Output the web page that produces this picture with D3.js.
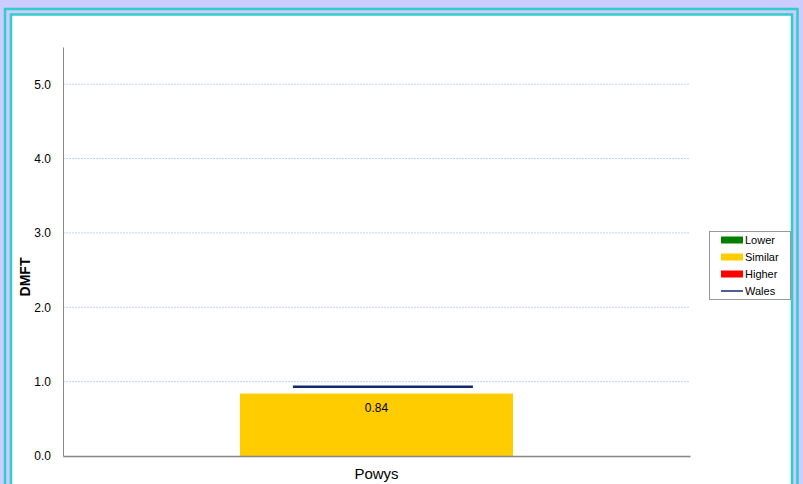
<!DOCTYPE html>
<html><head><meta charset="utf-8">
<script src="https://cdn.jsdelivr.net/npm/d3@7"></script>
<style>body{margin:0;background:#CCCCFF;overflow:hidden}</style>
</head><body>
<svg id="c" width="803" height="484"></svg>
<script>
const categories = ["Powys"];
const values = [0.84];
const barColors = ["#FFCC00"];
const walesValue = [0.93];
const yTicks = [0, 1, 2, 3, 4, 5];
const legendLabels = ["Lower", "Similar", "Higher", "Wales"];
const legendColors = ["#008000", "#FFCC00", "#FF0000", "#14286E"];

const svg = d3.select("#c");
svg.append("rect").attr("x",0).attr("y",0).attr("width",803).attr("height",484).attr("fill","#CCCCFF");
svg.append("rect").attr("x",5).attr("y",9).attr("width",792.5).attr("height",520)
  .attr("fill","#CCCCFF").attr("stroke","#33CCCC").attr("stroke-width",2.5);
svg.append("rect").attr("x",11).attr("y",14.5).attr("width",781).attr("height",520)
  .attr("fill","#FFFFFF").attr("stroke","#33CCCC").attr("stroke-width",2.5);

const mL = 63, mR = 690, mT = 47, mB = 456;
const y = d3.scaleLinear().domain([0, 5.5]).range([mB, mT]);
const x = d3.scaleBand().domain(categories).range([mL, mR]).paddingInner(0).paddingOuter(0.648);

// gridlines
svg.append("g").selectAll("line").data(yTicks.filter(d=>d>0)).join("line")
  .attr("x1", mL).attr("x2", mR).attr("y1", d=>y(d)).attr("y2", d=>y(d))
  .attr("stroke", "#BCD4EE").attr("stroke-width", 1).attr("stroke-dasharray", "2,1");

// y axis
const yAxis = d3.axisLeft(y).tickValues(yTicks).tickFormat(d3.format(".1f")).tickSize(0).tickPadding(12);
const ga = svg.append("g").attr("transform", `translate(${mL},0)`).call(yAxis);
ga.select(".domain").attr("stroke", "#888").attr("stroke-width", 1);
ga.selectAll("text").attr("font-family", "Liberation Sans, Arial, sans-serif").attr("font-size", 12).attr("fill", "#000");

// bars
svg.append("g").selectAll("rect").data(values).join("rect")
  .attr("x", (d,i)=>x(categories[i])).attr("width", x.bandwidth())
  .attr("y", d=>y(d)).attr("height", d=>y(0)-y(d))
  .attr("fill", (d,i)=>barColors[i]);

// value labels
svg.append("g").selectAll("text").data(values).join("text")
  .attr("x", (d,i)=>x(categories[i]) + x.bandwidth()/2).attr("y", d=>y(d)+18)
  .attr("text-anchor","middle").attr("font-family","Liberation Sans, Arial, sans-serif")
  .attr("font-size",12).attr("fill","#000").text(d=>d.toFixed(2));

// Wales line
svg.append("g").selectAll("line").data(walesValue).join("line")
  .attr("x1", (d,i)=>x(categories[i]) + x.bandwidth()*0.194)
  .attr("x2", (d,i)=>x(categories[i]) + x.bandwidth()*0.853)
  .attr("y1", d=>y(d)).attr("y2", d=>y(d))
  .attr("stroke", "#14286E").attr("stroke-width", 2.5);

// x axis
const xAxis = d3.axisBottom(x).tickSize(0).tickPadding(12);
const gx = svg.append("g").attr("transform", `translate(0,${mB})`).call(xAxis);
gx.select(".domain").attr("stroke", "#888").attr("stroke-width", 1.5);
gx.selectAll("text").attr("font-family", "Liberation Sans, Arial, sans-serif").attr("font-size", 15).attr("fill", "#000");
svg.append("line").attr("x1", mL).attr("x2", mR).attr("y1", mB+1.5).attr("y2", mB+1.5).attr("stroke","#ddd").attr("stroke-width",1);

// y label
svg.append("text").attr("transform", "translate(30,277) rotate(-90)")
  .attr("text-anchor","middle").attr("font-family","Liberation Sans, Arial, sans-serif")
  .attr("font-size",14).attr("font-weight","bold").attr("fill","#000").text("DMFT");

// legend
const lg = svg.append("g");
lg.append("rect").attr("x",709.5).attr("y",231.5).attr("width",81).attr("height",68)
  .attr("fill","#fff").attr("stroke","#999").attr("stroke-width",1);
legendLabels.forEach((lab,i)=>{
  const yy = 240 + i*17;
  if (lab === "Wales") {
    lg.append("line").attr("x1",721).attr("x2",743).attr("y1",yy).attr("y2",yy)
      .attr("stroke",legendColors[i]).attr("stroke-width",1.5);
  } else {
    lg.append("rect").attr("x",721).attr("y",yy-3.5).attr("width",22).attr("height",7).attr("fill",legendColors[i]);
  }
  lg.append("text").attr("x",745).attr("y",yy+4).attr("font-family","Liberation Sans, Arial, sans-serif")
    .attr("font-size",11).attr("fill","#000").text(lab);
});
</script>
</body></html>
